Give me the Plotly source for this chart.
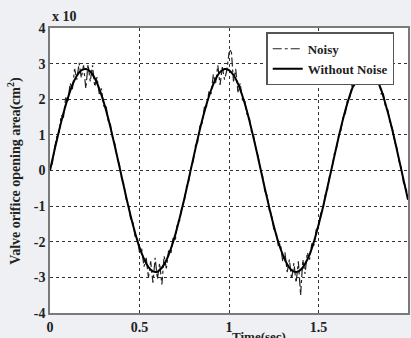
import plotly.graph_objects as go

# Time axes (sec)
t_clean = [i * 0.025 for i in range(81)]
t_noisy = [i * 0.0125 for i in range(161)]

# Without Noise (x 10 cm^2)
clean = [0.00, 0.57, 1.11, 1.61, 2.04, 2.40, 2.66, 2.81, 2.85, 2.78,
         2.59, 2.30, 1.92, 1.47, 0.95, 0.40, -0.17, -0.73, -1.26, -1.74,
         -2.16, -2.48, -2.71, -2.83, -2.84, -2.73, -2.52, -2.20, -1.80, -1.32,
         -0.80, -0.24, 0.33, 0.89, 1.41, 1.87, 2.26, 2.56, 2.76, 2.85,
         2.82, 2.68, 2.44, 2.09, 1.67, 1.17, 0.64, 0.07, -0.50, -1.04,
         -1.55, -2.00, -2.36, -2.63, -2.80, -2.85, -2.79, -2.62, -2.36, -1.99,
         -1.53, -1.03, -0.47, 0.09, 0.66, 1.20, 1.69, 2.11, 2.45, 2.69,
         2.82, 2.85, 2.76, 2.56, 2.27, 1.85, 1.39, 0.87, 0.31, -0.26,
         -0.82]

# Noisy
noisy = [0.10, 0.18, 0.62, 0.95, 1.02, 1.55, 1.48, 2.05, 1.92, 2.45,
         2.28, 2.85, 2.55, 3.02, 2.60, 2.95, 2.30, 2.98, 2.50, 2.95,
         2.35, 2.62, 2.15, 2.30, 1.80, 1.85, 1.38, 1.30, 0.90, 0.75,
         0.35, 0.18, -0.22, -0.38, -0.80, -0.92, -1.35, -1.42, -1.85, -1.88,
         -2.30, -2.20, -2.70, -2.45, -3.00, -2.55, -3.15, -2.45, -3.05, -2.60,
         -3.20, -2.40, -2.75, -2.25, -2.35, -1.90, -1.95, -1.45, -1.40, -0.98,
         -0.88, -0.45, -0.30, 0.10, 0.25, 0.70, 0.80, 1.25, 1.32, 1.78,
         1.80, 2.20, 2.15, 2.70, 2.45, 2.95, 2.40, 2.90, 2.55, 2.80,
         3.30, 3.40, 2.50, 2.85, 2.20, 2.45, 1.98, 2.00, 1.58, 1.52,
         1.10, 0.98, 0.58, 0.42, 0.02, -0.15, -0.58, -0.70, -1.12, -1.22,
         -1.65, -1.70, -2.10, -2.05, -2.55, -2.30, -2.85, -2.50, -3.05, -2.60,
         -3.15, -2.55, -3.50, -2.50, -2.90, -2.30, -2.50, -2.05, -2.10, -1.65,
         -1.62, -1.20, -1.10, -0.68, -0.55, -0.12, 0.05, 0.45, 0.60, 1.00,
         1.12, 1.52, 1.60, 2.00, 2.05, 2.42, 2.35, 2.75, 2.55, 2.95,
         2.65, 3.00, 2.60, 2.95, 2.55, 2.80, 2.40, 2.55, 2.15, 2.15,
         1.75, 1.70, 1.30, 1.20, 0.80, 0.65, 0.25, 0.08, -0.35, -0.45,
         -0.75]

x_ticks = [0, 0.5, 1, 1.5, 2]
x_tick_labels = ["0", "0.5", "1", "1.5", "2"]
y_ticks = [-4, -3, -2, -1, 0, 1, 2, 3, 4]
y_tick_labels = ["-4", "-3", "-2", "-1", "0", "1", "2", "3", "4"]

FONT = "Liberation Serif"

fig = go.Figure()
fig.add_trace(go.Scatter(x=t_noisy, y=noisy, mode="lines", name="Noisy",
                         line=dict(color="#222222", width=1.2, dash="dashdot")))
fig.add_trace(go.Scatter(x=t_clean, y=clean, mode="lines", name="Without Noise",
                         line=dict(color="#000000", width=2), line_shape="spline"))

axis_common = dict(showline=True, linecolor="#7a7a7a", linewidth=1.5, mirror=True,
                   showgrid=True, gridcolor="#333333", griddash="dot", gridwidth=1,
                   zeroline=False, ticks="",
                   tickfont=dict(family=FONT, size=14, color="#222222", weight=700))

fig.update_xaxes(range=[0, 2], tickvals=x_ticks, ticktext=x_tick_labels, **axis_common)
fig.update_yaxes(range=[-4, 4], tickvals=y_ticks, ticktext=y_tick_labels, **axis_common)

fig.update_layout(
    width=411, height=338,
    margin=dict(l=50, r=1, t=28, b=25),
    paper_bgcolor="#eef0f3", plot_bgcolor="white",
    showlegend=True,
    legend=dict(x=0.604, y=0.985, xanchor="left", yanchor="top",
                bgcolor="white", bordercolor="#555555", borderwidth=1.5,
                font=dict(family=FONT, size=13, color="#222222", weight=700),
                tracegroupgap=0),
    annotations=[
        dict(text="x 10", x=0, y=1, xref="paper", yref="paper", xanchor="left",
             yanchor="bottom", showarrow=False, yshift=2,
             font=dict(family=FONT, size=14, color="#222222", weight=700)),
        dict(text="Valve orifice opening area(cm<sup>2</sup>)", x=-0.10, y=0.5,
             xref="paper", yref="paper", textangle=-90, showarrow=False,
             xanchor="center", yanchor="middle",
             font=dict(family=FONT, size=14, color="#222222", weight=700)),
        dict(text="Time(sec)", x=0.585, y=-0.05, xref="paper", yref="paper",
             xanchor="center", yanchor="top", showarrow=False,
             font=dict(family=FONT, size=13, color="#222222", weight=700)),
    ],
)

fig.write_html("out.html", config={"displayModeBar": False},
               post_script="document.body.style.margin='0';")
